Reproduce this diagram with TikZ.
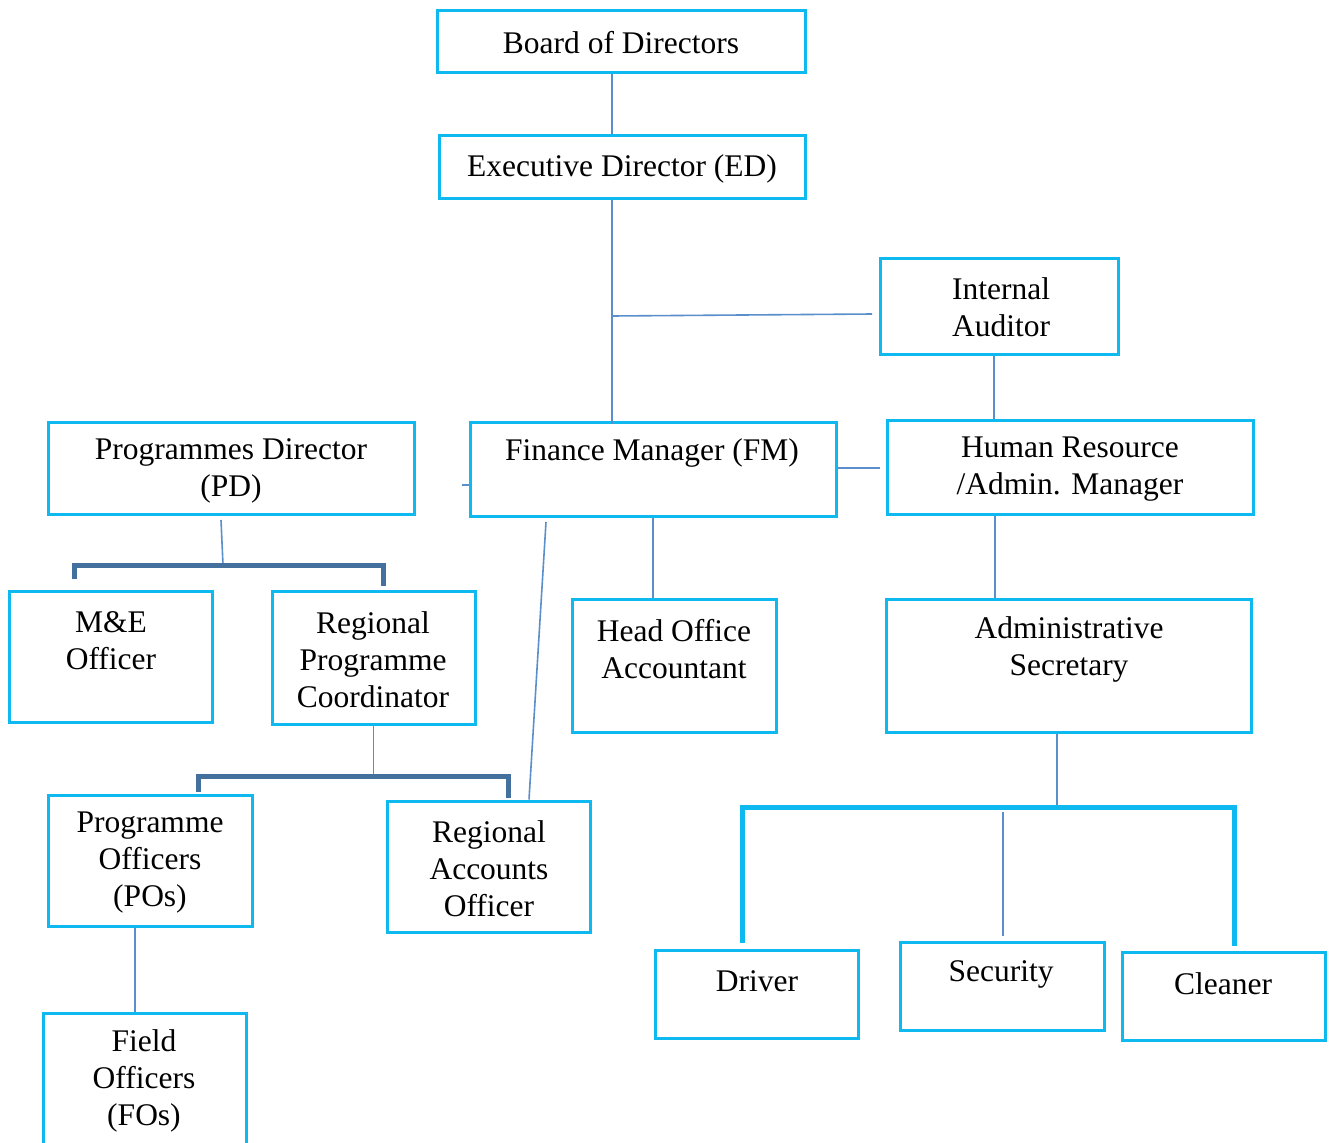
\documentclass[tikz,border=0pt]{standalone}
\usepackage{fontspec}
\setmainfont{Liberation Serif}
\begin{document}
\begin{tikzpicture}[x=1pt,y=-1pt,
  box/.style={draw=boxblue, line width=3pt, rectangle, inner sep=0pt},
  lbl/.style={align=center, inner sep=0pt, text=black,
    font=\fontsize{31.5}{37}\selectfont},
  link/.style={draw=linkblue, line width=1.6pt},
  heavybar/.style={draw=barblue, line width=5pt},
  cyanbar/.style={draw=boxblue, line width=5pt}]
\definecolor{boxblue}{HTML}{0DB9EF}
\definecolor{linkblue}{HTML}{5B8FCB}
\definecolor{barblue}{HTML}{44709E}
\clip (0,0) rectangle (1329,1142);
\fill[white] (0,0) rectangle (1329,1142);

% boxes
\node[box, minimum width=368, minimum height=62]  (bod) at (621,42) {};
\node[box, minimum width=366, minimum height=62]  (ed)  at (622,167) {};
\node[box, minimum width=238, minimum height=96]  (ia)  at (999,306) {};
\node[box, minimum width=366, minimum height=92]  (pd)  at (231,468) {};
\node[box, minimum width=366, minimum height=94]  (fm)  at (653,469) {};
\node[box, minimum width=366, minimum height=94]  (hr)  at (1070,467) {};
\node[box, minimum width=203, minimum height=131] (me)  at (110.5,656.5) {};
\node[box, minimum width=203, minimum height=133] (rpc) at (373.5,657.5) {};
\node[box, minimum width=204, minimum height=133] (hoa) at (674,665.5) {};
\node[box, minimum width=365, minimum height=133] (as)  at (1068.5,665.5) {};
\node[box, minimum width=204, minimum height=131] (po)  at (150,860.5) {};
\node[box, minimum width=203, minimum height=131] (rao) at (488.5,866.5) {};
\node[box, minimum width=203, minimum height=88]  (drv) at (756.5,994) {};
\node[box, minimum width=204, minimum height=88]  (sec) at (1002,986) {};
\node[box, minimum width=203, minimum height=88]  (cln) at (1223.5,996) {};
\node[box, minimum width=203, minimum height=150] (fo)  at (144.5,1088) {};

% texts
\node[lbl] (tbod) at (621,43)  {Board of Directors};
\node[lbl] (ted)  at (622,169) {Executive Director (ED)};
\node[lbl] (tia)  at (1001,307) {Internal\\Auditor};
\node[lbl] (tpd)  at (231,471) {Programmes Director\\(PD)};
\node[lbl] (tfm)  at (652,453) {Finance Manager (FM)};
\node[lbl] (thr)  at (1070,469) {Human Resource\\/Admin. Manager};
\node[lbl] (tme)  at (111,641) {M\&E\\Officer};
\node[lbl] (trpc) at (373,660) {Regional\\Programme\\Coordinator};
\node[lbl] (thoa) at (674,649) {Head Office\\Accountant};
\node[lbl] (tas)  at (1069,649) {Administrative\\Secretary};
\node[lbl] (tpo)  at (150,863) {Programme\\Officers\\(POs)};
\node[lbl] (trao) at (489,869) {Regional\\Accounts\\Officer};
\node[lbl] (tdrv) at (757,981) {Driver};
\node[lbl] (tsec) at (1001,974) {Security};
\node[lbl] (tcln) at (1223,984) {Cleaner};
\node[lbl] (tfo)  at (144,1081) {Field\\Officers\\(FOs)};

% helper coordinates for connector positions
\coordinate (xe)    at (612,0);
\coordinate (j1)    at (612,316);
\coordinate (iaend) at (872,314);
\coordinate (xh)    at (994,0);
\coordinate (hrjoin) at (880,468);
\coordinate (tick)  at (462,485);
\coordinate (pdtop) at (221,520);
\coordinate (pdbar) at (223,565);
\coordinate (b1l)   at (74,579);
\coordinate (b1r)   at (383,586);
\coordinate (b2y)   at (374,776);
\coordinate (b2l)   at (198,792);
\coordinate (b2r)   at (508,798);
\coordinate (fmsl)  at (546,522);
\coordinate (xr)    at (529,0);
\coordinate (xa)    at (995,0);
\coordinate (xs)    at (1057,0);
\coordinate (b3y)   at (1057,807);
\coordinate (b3l)   at (742,943);
\coordinate (b3r)   at (1234,946);
\coordinate (sectop) at (1003,812);
\coordinate (secend) at (1003,936);
\coordinate (xp)    at (135,0);

% connectors
\draw[link] (bod.south -| xe) -- (ed.north -| xe);
\draw[link] (ed.south -| xe) -- ([yshift=-3pt]fm.north -| xe);
\draw[link] (j1) -- (iaend);
\draw[link] (ia.south -| xh) -- (hr.north -| xh);
\draw[link] (fm.east |- hrjoin) -- (hrjoin);
\draw[link] (tick) -- (tick -| fm.west);
\draw[link] (pdtop) -- (pdbar);
\draw[heavybar] (b1l) |- (b1r |- pdbar) -- (b1r);
\draw[link] (rpc.south) -- (rpc.south |- b2y);
\draw[heavybar] (b2l) |- (b2r |- b2y) -- (b2r);
\draw[link] (fmsl) -- (rao.north -| xr);
\draw[link] (fm.south) -- (fm.south |- hoa.north);
\draw[link] (hr.south -| xa) -- (as.north -| xa);
\draw[link] (as.south -| xs) -- (b3y);
\draw[cyanbar] (b3l) |- (b3r |- b3y) -- (b3r);
\draw[link] (sectop) -- (secend);
\draw[link] (po.south -| xp) -- (fo.north -| xp);
\end{tikzpicture}
\end{document}
